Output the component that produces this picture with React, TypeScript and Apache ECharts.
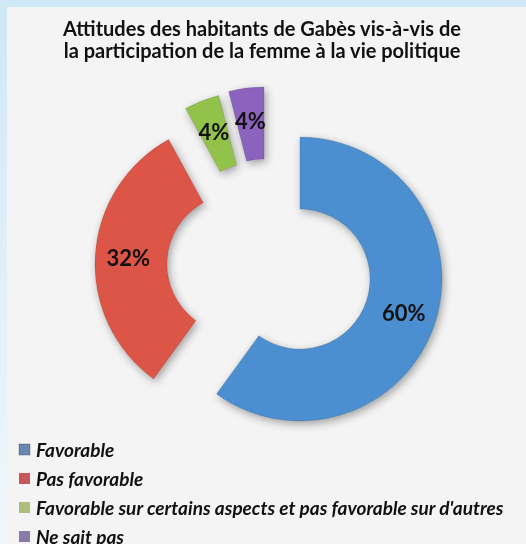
import React, { useEffect, useRef } from "react";
import * as echarts from "echarts";

const categories = [
  "Favorable",
  "Pas favorable",
  "Favorable sur certains aspects et pas favorable sur d'autres",
  "Ne sait pas",
];
const values = [60, 32, 4, 4];
const titleLines = [
  "Attitudes des habitants de Gabès vis-à-vis de",
  "la participation de la femme à la vie politique",
];

const sliceColors = ["#4b8fd1", "#dd5546", "#93c24c", "#8b63be"];
const legendColors = ["#6a86b5", "#c6575a", "#aebd7c", "#8a7aa8"];
const centers: [number, number][] = [
  [300, 279],
  [237, 264],
  [254, 233],
  [264, 229],
];

export default function App() {
  const ref = useRef<HTMLDivElement>(null);
  useEffect(() => {
    if (!ref.current) return;
    const chart = echarts.init(ref.current, undefined, { renderer: "svg" });
    const font = "Lato, 'Open Sans', sans-serif";
    chart.setOption({
      animation: false,
      graphic: [
        {
          type: "rect",
          z: -10,
          silent: true,
          shape: { x: 0, y: 0, width: 526, height: 544 },
          style: {
            fill: new echarts.graphic.LinearGradient(0, 0, 0, 1, [
              { offset: 0, color: "#cfe8f6" },
              { offset: 1, color: "#f0f7fb" },
            ]),
          },
        },
        {
          type: "rect",
          z: -9,
          silent: true,
          shape: { x: 7, y: 7, width: 519, height: 537 },
          style: { fill: "#f4f4f4" },
        },
      ],
      title: {
        text: titleLines.join("\n"),
        left: 262,
        textAlign: "center",
        top: 17,
        padding: 0,
        textStyle: {
          fontFamily: font,
          fontWeight: "bold",
          fontSize: 20,
          lineHeight: 22,
          color: "#111",
        },
      },
      legend: {
        orient: "vertical",
        left: 18,
        top: 440,
        height: 130,
        padding: 0,
        icon: "rect",
        itemWidth: 11,
        itemHeight: 11,
        itemGap: 10,
        selectedMode: false,
        data: categories.map((name, i) => ({
          name,
          itemStyle: { color: legendColors[i] },
        })),
        textStyle: {
          fontFamily: font,
          fontWeight: "bold",
          fontStyle: "italic",
          fontSize: 19,
          lineHeight: 19,
          color: "#111",
          padding: [0, 0, 0, 1],
        },
      },
      series: values.map((_, i) => ({
        type: "pie",
        center: centers[i],
        radius: [70, 142],
        startAngle: 90,
        clockwise: true,
        silent: true,
        avoidLabelOverlap: false,
        labelLine: { show: false },
        label: { show: false },
        data: categories.map((name, j) => ({
          name,
          value: values[j],
          itemStyle:
            j === i
              ? {
                  color: sliceColors[j],
                  borderColor: "rgba(0,0,0,0.12)",
                  borderWidth: 1,
                  shadowBlur: 8,
                  shadowColor: "rgba(0,0,0,0.35)",
                  shadowOffsetX: 2,
                  shadowOffsetY: 3,
                }
              : { color: "rgba(0,0,0,0)", borderWidth: 0 },
          label:
            j === i
              ? {
                  show: true,
                  position: "inside",
                  formatter: "{c}%",
                  fontFamily: font,
                  fontWeight: "bold",
                  fontSize: 22,
                  color: "#111",
                }
              : { show: false },
        })),
      })),
    });
    return () => chart.dispose();
  }, []);
  return (
    <div
      ref={ref}
      style={{ position: "fixed", left: 0, top: 0, width: 526, height: 544 }}
    />
  );
}
